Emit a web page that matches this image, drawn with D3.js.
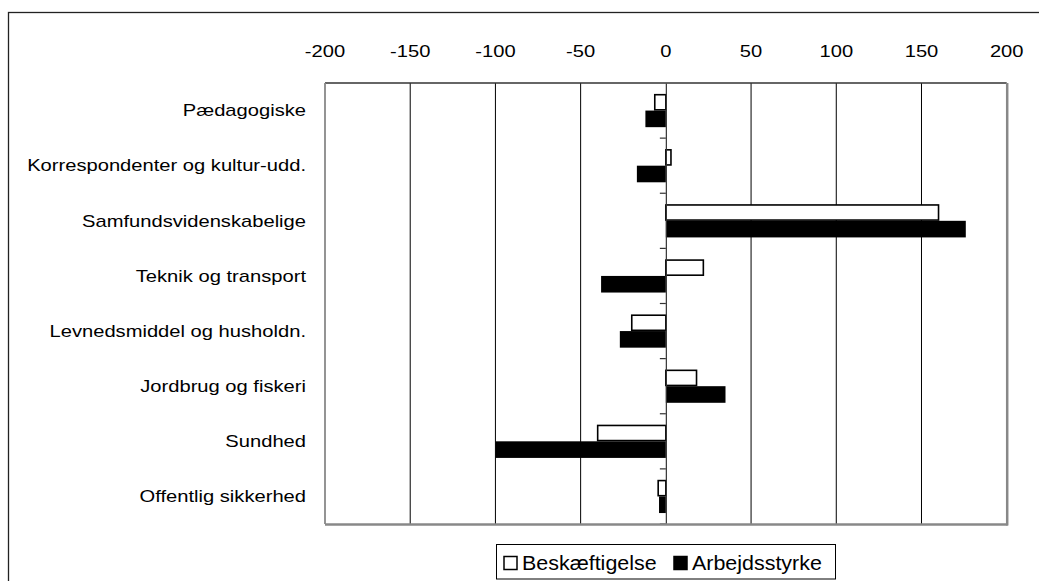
<!DOCTYPE html>
<html>
<head>
<meta charset="utf-8">
<script src="https://cdn.jsdelivr.net/npm/d3@7"></script>
<style>
  html, body { margin: 0; padding: 0; background: #fff; }
  svg { display: block; font-family: "Liberation Sans", Arial, sans-serif; }
</style>
</head>
<body>
<svg id="chart" width="1039" height="581"></svg>
<script>
// Change per occupational group
const categories = [
  "Pædagogiske",
  "Korrespondenter og kultur-udd.",
  "Samfundsvidenskabelige",
  "Teknik og transport",
  "Levnedsmiddel og husholdn.",
  "Jordbrug og fiskeri",
  "Sundhed",
  "Offentlig sikkerhed"
];
const beskaeftigelse = [-6.5, 3, 160, 22, -20, 18, -40, -4.5];
const arbejdsstyrke  = [-12, -17, 176, -38, -27, 35, -100, -4];
const xTicks = [-200, -150, -100, -50, 0, 50, 100, 150, 200];
const seriesNames = ["Beskæftigelse", "Arbejdsstyrke"];

const svg = d3.select("#chart");
const W = 1039, H = 581;
const plot = { left: 325, right: 1006.7, top: 83, bottom: 524 };
const stretch = 1.26; // horizontal text stretch

svg.append("rect").attr("width", W).attr("height", H).attr("fill", "#fff");

// outer chart frame
svg.append("rect")
  .attr("x", 8.5).attr("y", 12.5)
  .attr("width", 1100).attr("height", 700)
  .attr("fill", "none").attr("stroke", "#222").attr("stroke-width", 1.3);

const x = d3.scaleLinear().domain([-200, 200]).range([plot.left, plot.right]);
const y = d3.scaleBand().domain(categories).range([plot.top, plot.bottom]);
const inner = d3.scaleBand().domain(seriesNames)
  .range([0, y.bandwidth()]).paddingInner(0).paddingOuter(0.66);

// vertical gridlines
svg.append("g").selectAll("line")
  .data(xTicks.filter(t => t !== 0 && t !== -200 && t !== 200))
  .join("line")
  .attr("x1", d => x(d)).attr("x2", d => x(d))
  .attr("y1", plot.top).attr("y2", plot.bottom)
  .attr("stroke", "#000").attr("stroke-width", 1);

// top axis labels (plain hyphen for negatives)
const topAxis = svg.append("g");
xTicks.forEach(t => {
  topAxis.append("text")
    .attr("transform", `translate(${x(t)},57) scale(${stretch},1)`)
    .attr("text-anchor", "middle")
    .attr("font-size", 16)
    .attr("fill", "#000")
    .text(String(t));
});

// bars
const rows = categories.map((c, i) => ({ c, vals: [beskaeftigelse[i], arbejdsstyrke[i]] }));
const g = svg.append("g");
rows.forEach(r => {
  r.vals.forEach((v, j) => {
    const name = seriesNames[j];
    const y0 = y(r.c) + inner(name);
    const h = inner.bandwidth();
    const x0 = Math.min(x(0), x(v)), w = Math.abs(x(v) - x(0));
    if (j === 0) {
      g.append("rect")
        .attr("x", x0).attr("y", y0 + 0.75)
        .attr("width", w).attr("height", h - 1.5)
        .attr("fill", "#fff").attr("stroke", "#000").attr("stroke-width", 1.6);
    } else {
      g.append("rect")
        .attr("x", x0).attr("y", y0)
        .attr("width", w).attr("height", h)
        .attr("fill", "#000");
    }
  });
});

// category axis at zero
const yAxis = d3.axisLeft(y).tickSize(0).tickFormat("");
const ax = svg.append("g").attr("transform", `translate(${x(0)},0)`).call(yAxis);
ax.select(".domain").attr("stroke", "#333").attr("stroke-width", 1.2);
const bounds = categories.map(c => y(c)).concat([plot.bottom]);
ax.selectAll("line.sep").data(bounds.slice(1)).join("line")
  .attr("class", "sep")
  .attr("x1", -6).attr("x2", 0)
  .attr("y1", d => d).attr("y2", d => d)
  .attr("stroke", "#333").attr("stroke-width", 1.2);

// category labels
categories.forEach(c => {
  svg.append("text")
    .attr("transform", `translate(306,${y(c) + y.bandwidth() / 2 + 5.8}) scale(${stretch},1)`)
    .attr("text-anchor", "end")
    .attr("font-size", 16)
    .attr("fill", "#000")
    .text(c);
});

// plot frame
svg.append("line").attr("x1", plot.left).attr("x2", plot.right)
  .attr("y1", plot.top).attr("y2", plot.top)
  .attr("stroke", "#333").attr("stroke-width", 1.5);
svg.append("line").attr("x1", plot.left).attr("x2", plot.left)
  .attr("y1", plot.top).attr("y2", plot.bottom)
  .attr("stroke", "#888").attr("stroke-width", 1.8);
svg.append("line").attr("x1", plot.left).attr("x2", plot.right + 1)
  .attr("y1", plot.bottom + 0.5).attr("y2", plot.bottom + 0.5)
  .attr("stroke", "#888").attr("stroke-width", 2.5);
svg.append("line").attr("x1", plot.right + 0.5).attr("x2", plot.right + 0.5)
  .attr("y1", plot.top).attr("y2", plot.bottom + 1.5)
  .attr("stroke", "#888").attr("stroke-width", 2.5);

// legend
const legend = svg.append("g");
legend.append("rect")
  .attr("x", 496.5).attr("y", 544.5).attr("width", 339).attr("height", 34.5)
  .attr("fill", "#fff").attr("stroke", "#000").attr("stroke-width", 1);
const legendItems = [
  { name: seriesNames[0], sx: 504, tx: 522, fill: "#fff" },
  { name: seriesNames[1], sx: 674, tx: 692, fill: "#000" }
];
legendItems.forEach(it => {
  legend.append("rect")
    .attr("x", it.sx).attr("y", 556.5).attr("width", 13).attr("height", 13)
    .attr("fill", it.fill).attr("stroke", "#000").attr("stroke-width", 1.5);
  legend.append("text")
    .attr("transform", `translate(${it.tx},570) scale(1.1,1)`)
    .attr("font-size", 19.5)
    .attr("fill", "#000")
    .text(it.name);
});
</script>
</body>
</html>
